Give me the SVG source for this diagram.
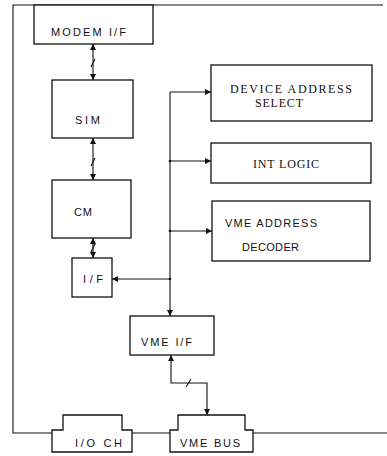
<svg xmlns="http://www.w3.org/2000/svg" width="387" height="456" viewBox="0 0 387 456">
<style>
.box{fill:#fff;stroke:#111;stroke-width:1.3}
.ln{fill:none;stroke:#111;stroke-width:1.1}
.t{font-family:"Liberation Sans",Arial,sans-serif;font-size:11px;fill:#111}
.s{font-family:"Liberation Serif","Times New Roman",serif;font-size:12px;fill:#111}
</style>
<defs>
<marker id="ah" viewBox="0 0 6 6" refX="6" refY="3" markerWidth="6" markerHeight="6" markerUnits="userSpaceOnUse" orient="auto-start-reverse">
<path d="M0,0 L6,3 L0,6 z" fill="#111"/>
</marker>
</defs>
<g id="frame">
<path class="ln" d="M383,5 H13 V433 H52 M132,433 H170 M253,433 H387"/>
</g>
<g id="connectors">
<line class="ln" x1="93" y1="44" x2="93" y2="80" marker-start="url(#ah)" marker-end="url(#ah)"/>
<line class="ln" x1="91" y1="67" x2="95" y2="59"/>
<line class="ln" x1="93" y1="138" x2="93" y2="180" marker-start="url(#ah)" marker-end="url(#ah)"/>
<line class="ln" x1="91" y1="166" x2="95" y2="158"/>
<line class="ln" x1="93" y1="238" x2="93" y2="258" marker-start="url(#ah)" marker-end="url(#ah)"/>
<line class="ln" x1="91" y1="252" x2="95" y2="244"/>
<line class="ln" x1="170" y1="92" x2="170" y2="316" marker-end="url(#ah)"/>
<line class="ln" x1="170" y1="92" x2="211" y2="92" marker-end="url(#ah)"/>
<line class="ln" x1="170" y1="161" x2="211" y2="161" marker-end="url(#ah)"/>
<line class="ln" x1="170" y1="231" x2="212" y2="231" marker-end="url(#ah)"/>
<line class="ln" x1="170" y1="279" x2="112" y2="279" marker-end="url(#ah)"/>
<circle cx="170" cy="161" r="1.3" fill="#111"/>
<circle cx="170" cy="231" r="1.3" fill="#111"/>
<circle cx="170" cy="279" r="1.3" fill="#111"/>
<path class="ln" d="M171,355 V383 H207 V415" marker-start="url(#ah)" marker-end="url(#ah)"/>
<line class="ln" x1="186" y1="387" x2="191" y2="379"/>
</g>
<g id="modem-if">
<rect class="box" x="34" y="5" width="119" height="39"/>
<text class="t" x="51" y="36" textLength="75" lengthAdjust="spacing">MODEM I/F</text>
</g>
<g id="sim">
<rect class="box" x="52" y="80" width="81" height="58"/>
<text class="t" x="75" y="124" textLength="25" lengthAdjust="spacing">SIM</text>
</g>
<g id="cm">
<rect class="box" x="52" y="180" width="79" height="58"/>
<text class="t" x="74" y="216" textLength="18" lengthAdjust="spacing">CM</text>
</g>
<g id="if">
<rect class="box" x="72" y="258" width="40" height="39"/>
<text class="t" x="83" y="283" textLength="20" lengthAdjust="spacing">I/F</text>
</g>
<g id="device-address-select">
<rect class="box" x="211" y="65" width="161" height="56"/>
<text class="s" x="230" y="93" textLength="122" lengthAdjust="spacing">DEVICE ADDRESS</text>
<text class="s" x="255" y="107" textLength="48" lengthAdjust="spacing">SELECT</text>
</g>
<g id="int-logic">
<rect class="box" x="211" y="143" width="160" height="40"/>
<text class="s" x="253" y="168" textLength="66" lengthAdjust="spacing">INT LOGIC</text>
</g>
<g id="vme-address-decoder">
<rect class="box" x="212" y="201" width="158" height="60"/>
<text class="t" x="225" y="227" textLength="92" lengthAdjust="spacing">VME ADDRESS</text>
<text class="t" x="242" y="251" textLength="57" lengthAdjust="spacing">DECODER</text>
</g>
<g id="vme-if">
<rect class="box" x="130" y="316" width="84" height="39"/>
<text class="t" x="141" y="346" textLength="51" lengthAdjust="spacing">VME I/F</text>
</g>
<g id="io-ch">
<path class="box" d="M63,415 H122 V430 H132 V452 H52 V430 H63 Z"/>
<text class="t" x="75" y="447" textLength="47" lengthAdjust="spacing">I/O CH</text>
</g>
<g id="vme-bus">
<path class="box" d="M178,415 H245 V430 H253 V452 H170 V430 H178 Z"/>
<text class="t" x="180" y="447" textLength="60" lengthAdjust="spacing">VME BUS</text>
</g>
</svg>
